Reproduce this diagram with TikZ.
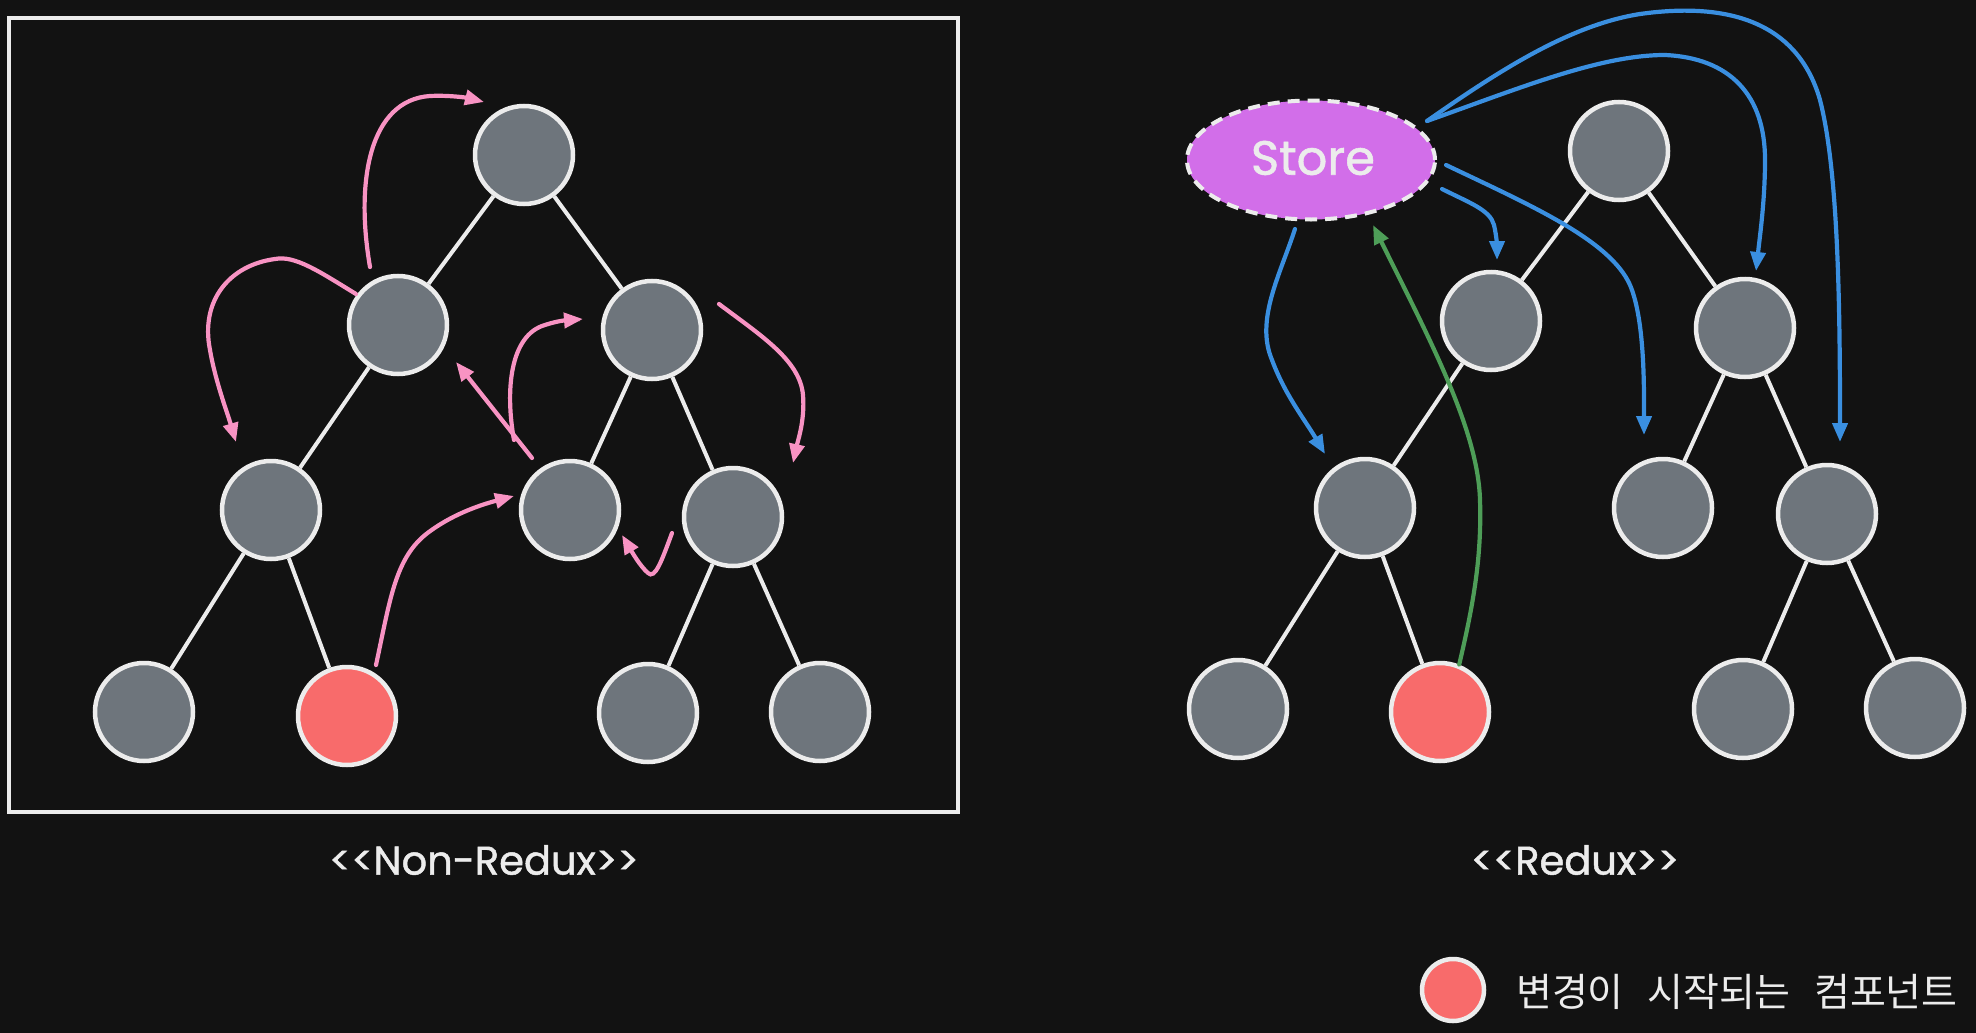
\documentclass[tikz,border=0pt]{standalone}
\usepackage{fontspec}
\usepackage{graphicx}
\setmainfont{Poppins}
\newfontfamily\lblfont{Poppins}[FakeBold=1.2]
\newfontfamily\krfont{Noto Sans CJK KR}
\usetikzlibrary{arrows.meta,shapes.geometric}
\definecolor{bg}{HTML}{121212}
\definecolor{wline}{HTML}{ECECEC}
\definecolor{gnode}{HTML}{6E757C}
\definecolor{rnodec}{HTML}{F86B6B}
\definecolor{pinkc}{HTML}{F893C3}
\definecolor{bluec}{HTML}{3A8FE0}
\definecolor{greenc}{HTML}{4E9E58}
\definecolor{storec}{HTML}{D26EE9}
\begin{document}
\begin{tikzpicture}[x=1pt,y=-1pt,
  tnode/.style={circle,draw=wline,fill=gnode,line width=4.5pt,minimum size=98pt,inner sep=0pt},
  rnode/.style={tnode,fill=rnodec},
  treeedge/.style={draw=wline,line width=4pt},
  tip/.style={-{Triangle[length=19pt,width=15pt]}},
  parr/.style={draw=pinkc,line width=4.2pt,line cap=round,tip},
  barr/.style={draw=bluec,line width=4.2pt,line cap=round,tip},
  garr/.style={draw=greenc,line width=4.2pt,line cap=round,tip},
  lbl/.style={text=wline,font=\lblfont\fontsize{40}{48}\selectfont}
]
\fill[bg] (0,0) rectangle (1976,1033);
\useasboundingbox (0,0) rectangle (1976,1033);

% frame
\draw[wline,line width=3.5pt] (9,18) rectangle (958,812);

% ---- left tree
\node[tnode] (L0)  at (524,155) {};
\node[tnode] (L1a) at (398,325) {};
\node[tnode] (L1b) at (652,330) {};
\node[tnode] (L2a) at (271,510) {};
\node[tnode] (L2b) at (570,510) {};
\node[tnode] (L2c) at (733,517) {};
\node[tnode] (L3a) at (144,712) {};
\node[rnode] (L3b) at (347,716) {};
\node[tnode] (L3c) at (648,713) {};
\node[tnode] (L3d) at (820,712) {};
\foreach \a/\b in {L0/L1a,L0/L1b,L1a/L2a,L1b/L2b,L1b/L2c,L2a/L3a,L2a/L3b,L2c/L3c,L2c/L3d}
  \draw[treeedge] (\a) -- (\b);

% pink arrow ends
\coordinate (p1s) at (370,267); \coordinate (p1e) at (484,102);
\coordinate (p2s) at (356,294); \coordinate (p2e) at (236,442);
\coordinate (p3s) at (532,458); \coordinate (p3e) at (456,362);
\coordinate (p4s) at (514,440); \coordinate (p4e) at (583,319);
\coordinate (p5s) at (376,665); \coordinate (p5e) at (514,496);
\coordinate (p6s) at (719,304); \coordinate (p6e) at (793,463);
\coordinate (p7s) at (672,533); \coordinate (p7e) at (622,535);

\draw[parr] (p1s) .. controls (355,180) and (370,100) .. (430,96) .. controls (450,95) and (468,98) .. (p1e);
\draw[parr] (p2s) .. controls (320,272) and (295,255) .. (275,259) .. controls (230,265) and (200,300) .. (210,350) .. controls (215,380) and (228,415) .. (p2e);
\draw[parr] (p3s) -- (p3e);
\draw[parr] (p4s) .. controls (505,390) and (510,335) .. (545,325) .. controls (560,320) and (570,320) .. (p4e);
\draw[parr] (p5s) .. controls (390,600) and (395,560) .. (425,535) .. controls (450,515) and (480,505) .. (p5e);
\draw[parr] (p6s) .. controls (760,335) and (800,360) .. (803,395) .. controls (805,420) and (798,440) .. (p6e);
\draw[parr] (p7s) .. controls (662,560) and (655,580) .. (648,573) .. controls (640,566) and (632,552) .. (p7e);

% ---- right tree
\node[tnode] (R0)  at (1619,151) {};
\node[tnode] (R1a) at (1491,321) {};
\node[tnode] (R1b) at (1745,328) {};
\node[tnode] (R2a) at (1365,508) {};
\node[tnode] (R2b) at (1663,508) {};
\node[tnode] (R2c) at (1827,514) {};
\node[tnode] (R3a) at (1238,709) {};
\node[rnode] (R3b) at (1440,712) {};
\node[tnode] (R3c) at (1743,709) {};
\node[tnode] (R3d) at (1915,708) {};
\foreach \a/\b in {R0/R1a,R0/R1b,R1a/R2a,R1b/R2b,R1b/R2c,R2a/R3a,R2a/R3b,R2c/R3c,R2c/R3d}
  \draw[treeedge] (\a) -- (\b);

% store
\node[ellipse,draw=wline,fill=storec,line width=4pt,dash pattern=on 12pt off 8pt,
      minimum width=248pt,minimum height=119pt,inner sep=0pt] (store) at (1311,160) {};
\node[text=wline,font=\lblfont\fontsize{48}{56}\selectfont] (storetxt) at (1313,158) {Store};

% blue arrow ends
\coordinate (b1s) at (1295,229); \coordinate (b1e) at (1325,454);
\coordinate (b2s) at (1442,189); \coordinate (b2e) at (1497,260);
\coordinate (b3s) at (1446,165); \coordinate (b3e) at (1644,435);
\coordinate (b4s) at (1427,121); \coordinate (b4e) at (1756,271);
\coordinate (b5e) at (1840,442);
\draw[barr] (b1s) .. controls (1280,275) and (1255,320) .. (1272,360) .. controls (1285,395) and (1305,420) .. (b1e);
\draw[barr] (b2s) .. controls (1470,203) and (1490,210) .. (1494,225) .. controls (1497,238) and (1497,248) .. (b2e);
\draw[barr] (b3s) .. controls (1530,205) and (1610,240) .. (1630,285) .. controls (1645,320) and (1644,390) .. (b3e);
\draw[barr] (b4s) .. controls (1520,88) and (1600,55) .. (1665,55) .. controls (1730,58) and (1765,95) .. (1765,160) .. controls (1765,200) and (1760,235) .. (b4e);
\draw[barr] (b4s) .. controls (1500,70) and (1570,25) .. (1640,14) .. controls (1740,0) and (1800,30) .. (1820,100) .. controls (1838,170) and (1840,300) .. (b5e);

% green arrow
\coordinate (g1e) at (1373,225);
\draw[garr] (R3b.68) .. controls (1472,610) and (1482,560) .. (1480,500) .. controls (1478,430) and (1430,340) .. (g1e);

% labels
\node[lbl] (lblnon) at (484,860) {<\kern0pt<Non-Redux>\kern0pt>};
\node[lbl] (lblred) at (1575,860) {<\kern0pt<Redux>\kern0pt>};

% legend
\node[circle,draw=wline,fill=rnodec,line width=4.5pt,minimum size=62pt,inner sep=0pt] (leg) at (1453,990) {};
\node[anchor=west,text=wline,inner sep=0pt,font=\krfont\fontsize{39}{46}\selectfont] (legtxt) at (1516,992) {변경이\hspace{0.6em}시작되는\hspace{0.6em}컴포넌트};
\end{tikzpicture}
\end{document}
